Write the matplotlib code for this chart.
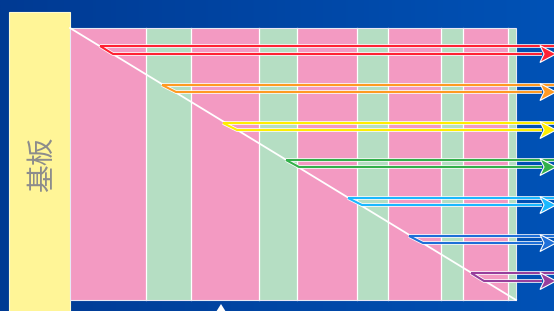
import matplotlib.pyplot as plt
import numpy as np
from matplotlib.patches import Rectangle, Polygon
from matplotlib.colors import LinearSegmentedColormap

plt.rcParams['font.family'] = ['Noto Sans CJK SC', 'DejaVu Sans']

# stripe edges (pixels) and stripe kinds
stripe_edges = [70, 146, 191, 259, 297, 357, 388, 441, 463, 508, 516]
stripe_kinds = ['pink', 'green', 'pink', 'green', 'pink', 'green', 'pink', 'green', 'pink', 'green']
stripe_colors = {'pink': '#f39ac2', 'green': '#b5dec3'}

# arrows: start of upper line, start of lower line, y of both lines
arrow_colors = ['#ff2233', '#ff9a22', '#ffee00', '#33b04a', '#1ab8ff', '#1e6fd8', '#973f9c']
upper_x = [100, 162, 223, 286, 348, 409, 471]
upper_y = [46, 85, 123, 160, 198, 236, 273]
lower_x = [113, 176, 237, 299, 362, 423, 484]
lower_y = [54, 92, 130, 167, 205, 243, 281]

W, H = 554, 311
fig = plt.figure(figsize=(W / 100, H / 100), dpi=100)
ax = fig.add_axes([0, 0, 1, 1])
ax.set_xlim(0, W)
ax.set_ylim(H, 0)
ax.axis('off')

# blue gradient background
grad = np.linspace(0, 1, 256).reshape(1, -1)
cmap = LinearSegmentedColormap.from_list('bg', ['#003a93', '#0052b6'])
ax.imshow(grad, cmap=cmap, extent=[0, W, H, 0], aspect='auto', zorder=0)

# substrate
ax.add_patch(Rectangle((9, 12), 61, 300, facecolor='#fff597', edgecolor='#fffbd0', lw=0.8, zorder=1))
ax.text(42, 164, '基板', rotation=90, fontsize=20, color='#8c8c8c', ha='center', va='center', zorder=2)

# stripes
for i, kind in enumerate(stripe_kinds):
    x0, x1 = stripe_edges[i], stripe_edges[i + 1]
    ax.add_patch(Rectangle((x0, 28), x1 - x0, 272, facecolor=stripe_colors[kind], edgecolor='none', zorder=1))
for x in stripe_edges[1:-1]:
    ax.plot([x, x], [28, 300], color='white', lw=0.9, zorder=2)
ax.add_patch(Rectangle((70, 28), 446, 272, facecolor='none', edgecolor='#e8e8f4', lw=0.8, zorder=2))

# diagonal
ax.plot([70, 516], [28, 300], color='white', lw=1.3, zorder=3)

# arrows
for c, ux, uy, lx, ly in zip(arrow_colors, upper_x, upper_y, lower_x, lower_y):
    for col, lw in (('white', 2.6), (c, 1.5)):
        ax.plot([ux, W + 5], [uy, uy], color=col, lw=lw, solid_capstyle='butt', zorder=4)
        ax.plot([ux, lx, 542], [uy, ly, ly], color=col, lw=lw, solid_capstyle='butt', zorder=4)
    ax.add_patch(Polygon([[540, ly - 8.5], [556, ly], [540, ly + 8.5], [544, ly]],
                         closed=True, facecolor=c, edgecolor='white', lw=0.8, zorder=5))

# cut-off pointer at the bottom
ax.add_patch(Polygon([[216, 312], [221, 304], [226, 312]], closed=True, facecolor='white', edgecolor='none', zorder=5))

fig.savefig('out.png', dpi=100)
